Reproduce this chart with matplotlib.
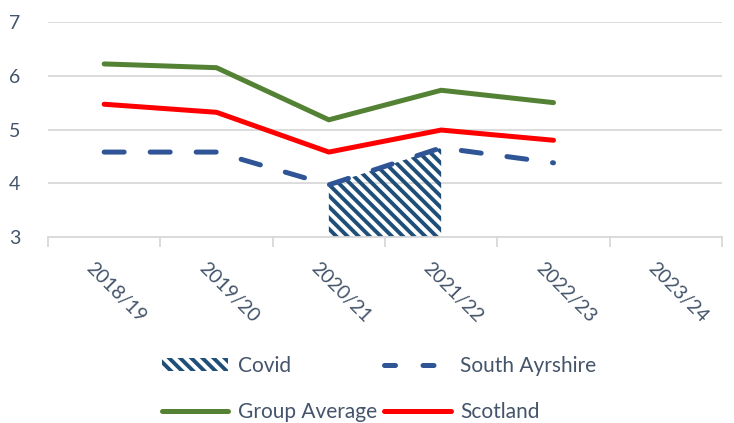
import numpy as np
import matplotlib
matplotlib.use('Agg')
import matplotlib.pyplot as plt
import matplotlib.transforms as mtransforms
from matplotlib.patches import Patch
from matplotlib.lines import Line2D

# chart data
years = ['2018/19', '2019/20', '2020/21', '2021/22', '2022/23', '2023/24']
south_ayrshire = [4.58, 4.58, 3.97, 4.66, 4.38]
group_average = [6.22, 6.15, 5.18, 5.73, 5.50]
scotland = [5.47, 5.32, 4.58, 4.99, 4.80]
covid_years = ['2020/21', '2021/22']
covid = [3.97, 4.66]

text_col = '#44546A'
plt.rcParams['font.family'] = ['Lato', 'DejaVu Sans']
plt.rcParams['hatch.linewidth'] = 2.8

fig = plt.figure(figsize=(7.34, 4.23), dpi=100)
ax = fig.add_axes([48/734, 1-237/423, (722-48)/734, (237-22)/423])

x = np.arange(len(years))
cx = [years.index(y) for y in covid_years]

# covid hatched area
ax.fill_between(cx, 3, covid, facecolor='none', edgecolor='#1F4E79',
                hatch='\\\\\\', linewidth=0, zorder=2)

ax.plot(x[:len(group_average)], group_average, color='#548235', lw=3.6,
        solid_capstyle='round', zorder=3)
ax.plot(x[:len(scotland)], scotland, color='#FF0000', lw=3.6,
        solid_capstyle='round', zorder=3)
ax.plot(x[:len(south_ayrshire)], south_ayrshire, color='#2F5597', lw=3.6,
        dashes=(4, 5.2), dash_capstyle='round', zorder=4)

ax.set_xlim(-0.5, len(years) - 0.5)
ax.set_ylim(3, 7)
ax.set_yticks([3, 4, 5, 6, 7])
ax.grid(axis='y', color='#D9D9D9', lw=1.3)
ax.set_axisbelow(True)
for s in ['top', 'right', 'left']:
    ax.spines[s].set_visible(False)
ax.spines['bottom'].set_color('#D9D9D9')
ax.spines['bottom'].set_linewidth(1.3)

ax.set_xticks(x)
ax.set_xticklabels(years, rotation=-45, ha='left', rotation_mode='anchor',
                   fontsize=14, color=text_col)
ax.set_xticks(np.arange(-0.5, len(years)), minor=True)
ax.tick_params(axis='x', which='major', length=0, pad=16)
ax.tick_params(axis='x', which='minor', length=7, width=1.3, color='#D9D9D9')
ax.tick_params(axis='y', length=0, pad=20, labelsize=14, labelcolor=text_col)
offset = mtransforms.ScaledTranslation(-9/100, 0, fig.dpi_scale_trans)
for lab in ax.get_xticklabels():
    lab.set_transform(lab.get_transform() + offset)

h_covid = Patch(facecolor='none', edgecolor='#1F4E79', hatch='\\\\\\', linewidth=0)
h_sa = Line2D([], [], color='#2F5597', lw=3.6, dashes=(2.2, 5.5), dash_capstyle='round')
h_ga = Line2D([], [], color='#548235', lw=3.6, solid_capstyle='round')
h_sc = Line2D([], [], color='#FF0000', lw=3.6, solid_capstyle='round')
# legend fills column-wise, so order for row-wise reading
handles = [h_covid, h_ga, h_sa, h_sc]
labels = ['Covid', 'Group Average', 'South Ayrshire', 'Scotland']
leg = fig.legend(handles, labels, ncol=2, loc='center', bbox_to_anchor=(379/734, 1-389/423),
                 frameon=False, fontsize=15, handlelength=3.2, handleheight=0.6,
                 handletextpad=0.45, columnspacing=0.35, labelspacing=1.25)
for t in leg.get_texts():
    t.set_color(text_col)

fig.savefig('out.png', dpi=100)
